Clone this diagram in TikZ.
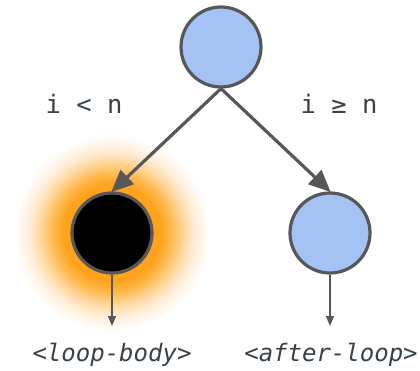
\documentclass[tikz,border=0pt]{standalone}
\usepackage{fontspec}
\setmonofont{DejaVu Sans Mono}
\usetikzlibrary{arrows.meta}
\definecolor{edgegray}{HTML}{575757}
\definecolor{nodeblue}{HTML}{A4C2F4}
\definecolor{labelink}{HTML}{37424A}
\definecolor{glowA}{HTML}{FFA31F}
\definecolor{glowB}{HTML}{FFB84A}
\definecolor{glowC}{HTML}{FFD597}
\definecolor{glowD}{HTML}{FFEDD6}
% soft orange halo; 25bp corresponds to the radius of the shaded circle
\pgfdeclareradialshading{halo}{\pgfpoint{0bp}{0bp}}{%
  color(0bp)=(glowA); color(12.5bp)=(glowA); color(15bp)=(glowB);
  color(18bp)=(glowC); color(21bp)=(glowD); color(25bp)=(white)}
\tikzset{
  state/.style={circle, draw=edgegray, line width=3.2pt, minimum size=80pt, inner sep=0pt},
  branch/.style={draw=edgegray, line width=3.2pt, -{Triangle[length=22pt,width=19pt]}, shorten >=-1pt},
  exit/.style={draw=edgegray, line width=1.5pt, -{Triangle[length=10pt,width=8pt]}},
  cond/.style={text=labelink, font=\ttfamily\fontsize{25.5}{28}\selectfont, inner sep=0pt},
  target/.style={text=labelink, font=\ttfamily\itshape\fontsize{24}{27}\selectfont, inner sep=0pt},
}
\begin{document}
\begin{tikzpicture}[x=1pt, y=-1pt]
  \useasboundingbox (0,0) rectangle (420,371);
  \shade[shading=halo] (112,233) circle (98);
  \node[state, fill=nodeblue] (top) at (221,47) {};
  \node[state, fill=black] (body) at (112,233) {};
  \node[state, fill=nodeblue] (after) at (330,233) {};
  \coordinate (bodyout) at (112,326);
  \coordinate (afterout) at (330,326);
  \draw[branch] (top.south) -- (body.north);
  \draw[branch] (top.south) -- (after.north);
  \draw[exit] (body.south) -- (bodyout);
  \draw[exit] (after.south) -- (afterout);
  \node[cond] (lt) at (84,104) {i < n};
  \node[cond] (ge) at (339,104) {i ≥ n};
  \node[target] (lb) at (112,355) {<loop-body>};
  \node[target] (al) at (331,355) {<after-loop>};
\end{tikzpicture}
\end{document}
